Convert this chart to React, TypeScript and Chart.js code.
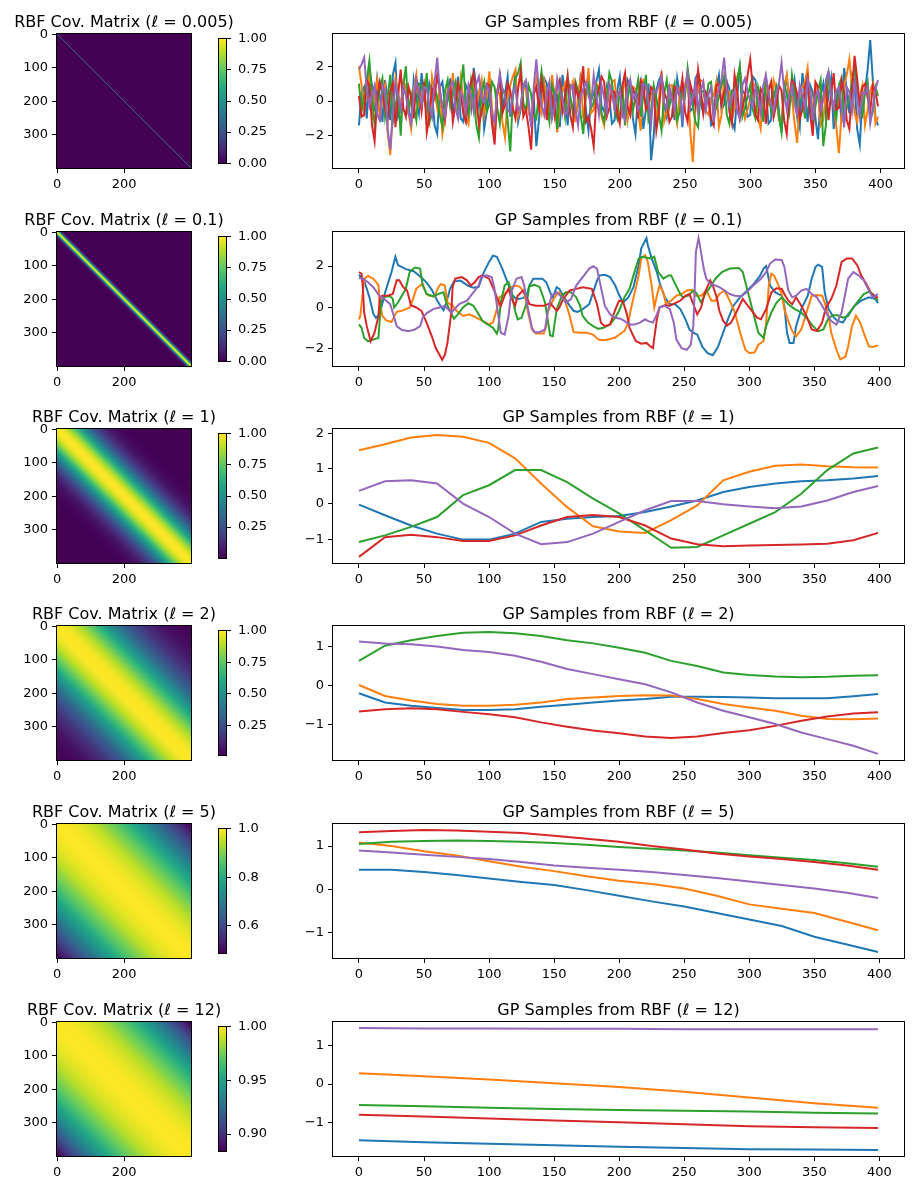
import React, { useEffect, useRef } from "react";
import { Chart, registerables } from "chart.js";
Chart.register(...registerables);

const FONT = "'DejaVu Sans', 'Liberation Sans', sans-serif";
const COLORS = ["#1f77b4", "#ff7f0e", "#2ca02c", "#d62728", "#9467bd"];
const ELL_LABELS = ["0.005", "0.1", "1", "2", "5", "12"];
const GRID_N = 400;

// ---------- covariance lag profiles (value vs |i-j|, sampled every `step` indices) ----------
const covStep = [1, 2, 10, 10, 10, 10];
const cov005 = [1, 0];
const cov01 = [1, 0.956, 0.834, 0.666, 0.485, 0.323, 0.196, 0.109, 0.055, 0.026, 0.011, 0.004, 0.001, 0];
const cov1 = [1, 0.989, 0.956, 0.903, 0.835, 0.754, 0.666, 0.575, 0.485, 0.4, 0.323, 0.255, 0.196, 0.148, 0.109, 0.079, 0.055, 0.038, 0.026, 0.017, 0.011, 0.007, 0.004, 0.002, 0.001, 0.0005, 0];
const cov2 = [1, 0.997, 0.989, 0.975, 0.956, 0.932, 0.903, 0.871, 0.835, 0.795, 0.754, 0.71, 0.666, 0.62, 0.575, 0.529, 0.485, 0.442, 0.4, 0.36, 0.323, 0.287, 0.255, 0.224, 0.196, 0.171, 0.148, 0.127, 0.109, 0.093, 0.079, 0.066, 0.055, 0.046, 0.038, 0.031, 0.026, 0.021, 0.017, 0.014, 0.011];
const cov5 = [1, 1, 0.998, 0.996, 0.993, 0.989, 0.984, 0.978, 0.971, 0.964, 0.956, 0.947, 0.937, 0.926, 0.915, 0.903, 0.891, 0.877, 0.864, 0.849, 0.834, 0.819, 0.803, 0.787, 0.771, 0.754, 0.737, 0.719, 0.701, 0.684, 0.666, 0.647, 0.629, 0.611, 0.593, 0.575, 0.556, 0.538, 0.52, 0.503, 0.487];
const cov12 = [1, 1, 1, 0.9993, 0.9987, 0.998, 0.9972, 0.9962, 0.995, 0.9937, 0.9922, 0.9905, 0.9888, 0.9868, 0.9847, 0.9825, 0.9801, 0.9776, 0.9749, 0.972, 0.9691, 0.9659, 0.9627, 0.9593, 0.9558, 0.9521, 0.9483, 0.9444, 0.9403, 0.9361, 0.9318, 0.9273, 0.9227, 0.918, 0.9133, 0.9084, 0.9034, 0.8982, 0.8929, 0.8875, 0.884];

const cbTicks = [
  [0, 0.25, 0.5, 0.75, 1],
  [0, 0.25, 0.5, 0.75, 1],
  [0.25, 0.5, 0.75, 1],
  [0.25, 0.5, 0.75, 1],
  [0.6, 0.8, 1.0],
  [0.9, 0.95, 1.0],
];
const cbDecimals = [2, 2, 2, 2, 1, 2];

// ---------- GP samples, l = 0.005: values at x = 0,4,8,... and at x = 2,6,10,... ----------
const NOISE_STEP = 4;
const n005Blue = [-1.4, 0.8, 1.8, -0.6, 0.3, 1.2, -1.1, 2.2, -0.4, 0.9, -1.5, 0.2, 1.6, -0.8, 0.5, -1.9, 1.1, 0.0, -0.7, 1.4, -1.2, 0.6, 1.9, -0.3, -1.6, 0.8, -2.2, 1.3, 0.4, -0.9, 1.7, -0.5, 0.9, -1.3, -2.6, 0.5, 1.0, -0.8, 0.3, 1.5, -1.4, 0.7, -0.2, 1.2, -1.7, 0.4, 1.8, -0.6, 0.1, -1.1, 1.4, -0.3, 0.8, -1.9, 1.1, -0.5, -3.4, 0.6, 1.5, -0.9, 0.2, 1.3, -1.5, 0.9, -0.4, 1.6, -0.7, 0.3, -1.3, 1.5, -0.2, 0.7, -1.6, 1.9, 0.4, -0.8, 1.2, -0.3, 0.6, -1.1, 0.9, -1.8, 1.4, 0.2, -0.6, 1.6, -1.2, 0.5, -2.2, 1.0, 0.3, -1.6, 0.8, 1.9, -0.7, 1.1, -2.5, 0.6, 3.5, -1.0];
const n005BlueMid = [0.5, -1.0, 0.9, 1.3, -1.2, 0.1, 1.5, -0.9, 0.6, -0.2, 1.2, -0.7, 0.3, 1.0, -1.4, 0.8, -0.3, 1.3, 0.2, -1.0, 0.9, -0.4, 0.7, 1.1, -0.6, -1.1, 0.5, -0.5, 1.4, 0.3, -1.2, 0.8, -0.4, 0.2, -1.1, 1.3, -0.2, 0.6, -1.5, 0.4, 0.9, -0.9, 1.5, -0.5, 0.1, 1.1, -0.3, 0.8, -1.3, 0.6, -0.8, 1.2, -1.0, 0.4, -1.6, 1.0, -2.0, 1.2, -0.2, 0.7, -1.1, 0.4, 0.9, -0.6, 1.3, -0.1, 0.5, -1.4, 0.8, -0.5, 1.1, -1.2, 0.3, 0.6, -0.9, 1.4, -0.4, 0.2, -1.3, 1.0, -0.6, 0.5, -0.2, 1.2, -1.5, 0.4, 0.9, -1.0, 0.3, -0.7, 1.3, 0.1, -1.2, 0.6, 1.5, -1.6, 0.2, 1.8, 1.2, -1.4];
const n005Orange = [2.0, -0.5, 1.6, 0.4, -1.2, 0.9, -3.1, 1.3, -0.2, 0.8, -1.6, 1.5, 0.3, -0.9, 1.4, -0.4, -1.9, 0.7, 1.6, -0.6, 0.2, -1.3, 1.0, 0.5, -0.8, 1.7, -1.5, 0.4, -2.1, 0.9, 1.8, -0.3, 0.6, -1.2, 1.3, -0.7, 0.2, 1.5, -1.8, 0.6, -0.4, 1.1, 0.3, -1.0, 1.9, -0.5, 0.8, -1.4, 0.0, 1.2, -0.9, 1.6, -0.2, 0.7, -1.7, 1.0, 0.4, -1.1, 1.7, -0.6, 0.9, -1.3, 0.2, 1.4, -3.5, 0.6, 1.1, -0.8, 0.3, -1.5, 1.3, 0.5, -0.4, 1.8, -1.0, 0.1, 0.9, -1.6, 1.2, -0.3, 0.7, -1.2, 1.5, 0.2, -2.4, 0.8, 1.9, -0.5, 0.4, -1.1, 1.6, -0.2, -3.0, 0.9, 2.4, -0.7, 0.3, -1.4, 0.6, -1.3];
const n005OrangeMid = [0.9, 0.7, -1.1, 1.2, 0.3, -1.8, -0.6, 0.4, 1.1, -0.7, 0.5, -0.2, 1.0, -1.3, 0.6, 0.9, -1.0, 0.2, -0.3, 1.3, -0.8, 0.4, -0.5, 1.2, 0.3, -0.4, 0.6, -1.2, 0.2, 1.4, -0.9, 0.8, -0.6, 0.4, -0.1, 1.1, -1.0, 0.3, -0.4, 1.0, 0.6, -1.2, 1.3, 0.2, -0.7, 1.0, -0.9, 0.5, 1.1, -0.4, 0.3, -1.1, 0.8, -0.6, 1.2, -0.3, 0.7, 0.1, -1.2, 0.9, -0.5, 0.6, 1.0, -1.7, -0.4, 1.2, -0.6, 0.2, 1.1, -0.8, 0.5, -1.0, 1.4, 0.3, -0.5, 1.0, -0.9, 0.4, -0.2, 1.2, -1.1, 0.8, 0.1, -1.3, 0.6, 1.1, -0.6, 0.9, -1.4, 0.5, 0.3, -1.5, -0.8, 1.5, 0.8, -1.2, 0.9, -0.5, 1.0, -0.9];
const n005Green = [1.0, 0.3, 2.3, -1.4, 0.7, -0.9, 1.5, -0.3, -2.0, 2.0, 0.4, -1.1, 0.9, 1.6, -0.7, 0.2, -1.5, 1.2, 0.6, -0.4, 2.1, -0.8, 0.3, -2.1, 1.1, -0.2, 0.8, -1.3, 0.5, -2.9, 1.3, 2.2, -0.6, 0.4, -1.0, 1.7, -0.3, 0.9, -1.6, 0.2, 1.4, -0.7, 0.6, -1.9, 1.0, -0.1, 0.5, -1.2, 1.6, -0.5, 0.7, -1.4, 1.1, 0.3, -0.9, 1.5, -0.6, 0.2, -1.7, 1.2, 0.4, -1.1, 0.8, 1.9, -0.3, -1.5, 0.6, 1.0, -0.8, 0.3, 1.4, -1.3, 0.7, 2.0, -0.4, 0.9, -1.0, 0.1, 1.3, -0.6, 0.8, -1.8, 0.4, 1.5, -0.9, 0.2, 1.1, -1.4, 0.6, -2.6, 1.7, -0.5, 0.9, -1.2, 0.3, 2.0, -0.7, 0.5, -1.1, 0.8];
const n005GreenMid = [-0.6, 1.2, 0.4, -0.2, 1.3, 0.2, -1.2, 0.6, 0.9, -0.8, -0.3, 1.0, 0.1, -1.2, 0.8, -0.8, 0.6, -0.3, 1.1, 0.7, -0.2, 1.2, -1.4, 0.5, -0.6, 1.1, -0.4, 0.7, -1.1, 0.2, 1.6, -0.1, 0.9, -0.7, 0.5, 0.4, -1.2, 0.3, 1.0, -0.9, 0.3, 1.1, -0.8, 0.6, -0.4, 0.9, -0.7, 0.2, 1.1, -1.0, 0.8, 0.1, -0.6, 1.2, 0.3, -1.1, 0.9, -0.8, 0.4, -0.3, 1.0, -0.6, 0.3, 0.7, -1.2, 0.5, -0.2, 1.1, -0.4, 0.9, -0.8, 0.6, 1.2, -0.9, 0.3, -0.5, 0.8, -1.2, 0.6, 0.2, -0.9, 1.0, -0.6, 0.5, 0.1, -1.0, 0.7, -0.3, 1.2, -1.4, 0.4, -1.0, 1.3, -0.4, 0.9, 0.6, -0.9, 1.1, -0.6, 0.3];
const n005Red = [0.3, -0.8, 0.9, -2.3, 1.1, -0.4, 0.6, -1.5, 1.8, -0.9, 0.2, 1.2, -0.6, -1.8, 0.7, 1.5, -0.3, 0.4, -1.2, 1.0, -0.7, 0.5, 1.6, -1.4, 0.1, 0.9, -2.5, 1.3, -0.2, 0.6, -1.0, 1.7, -0.5, -2.8, 0.8, 1.2, -1.1, 0.3, 0.9, -0.6, 1.4, -1.5, 0.2, 2.0, -0.9, -2.6, 0.7, 1.1, -0.4, 0.5, -1.3, 1.6, -0.8, 0.3, 1.2, -0.5, 0.8, -1.7, 1.4, 0.1, -0.9, 0.6, 1.3, -1.2, 0.4, 1.8, -0.7, 0.2, -1.4, 1.0, 0.5, -0.6, 1.5, -1.0, 0.3, 2.4, -0.8, 0.7, -1.3, 1.1, -0.2, 0.6, -1.9, 1.2, 0.4, -0.5, 1.4, -2.0, 0.8, 0.2, -1.1, 1.6, -0.4, 0.5, -1.6, 2.6, -0.3, 1.0, -0.6, 0.5];
const n005RedMid = [-0.9, 1.2, -1.4, 0.2, 0.4, -1.1, 1.0, 0.3, -0.4, 0.8, -1.0, 0.6, 1.1, -0.9, 0.2, 0.6, -1.1, 0.9, -0.2, 0.5, -1.2, 1.1, 0.2, -0.6, 1.0, -1.3, 0.4, -0.7, 1.0, -0.4, 0.7, -0.9, -1.5, 0.4, -0.4, 0.3, 0.8, -0.8, 1.2, 0.3, -0.8, 0.9, 0.6, -1.2, -1.6, 0.2, 1.4, -0.9, 0.6, -0.7, 0.9, -0.3, 0.7, -1.0, 1.0, -0.2, 0.6, -0.6, 0.5, -1.2, 0.8, 0.3, -0.6, 1.0, -0.3, 0.7, 0.5, -1.0, 0.9, -0.2, 1.0, -1.3, 0.6, -0.4, 1.5, 0.7, -1.1, 0.4, 0.6, -0.9, 0.9, -1.1, 0.3, 1.0, -1.0, 0.8, -0.8, 1.1, -0.6, 0.9, 0.4, -0.5, 1.2, -1.1, 0.6, 1.3, 0.8, 0.2, 0.9, -0.3];
const n005Purple = [1.8, 2.5, -0.3, 0.9, -1.1, 0.6, -2.8, 1.0, -0.5, 0.3, -1.3, 1.2, -0.2, 0.7, -0.9, 2.5, -0.4, 0.5, 1.1, -1.0, 0.2, 0.9, -0.6, 1.4, -0.1, 0.6, -1.2, 1.6, 0.3, -0.7, 0.8, -0.3, 1.2, -1.5, 2.4, -0.2, 0.5, -1.0, 1.3, 0.1, -0.6, 0.9, -1.4, 0.7, 0.3, 1.5, -0.8, 0.2, 1.0, -0.5, 0.6, -1.1, 1.2, 0.4, -0.2, 0.9, -1.3, 0.5, 1.4, -0.4, 0.1, 0.8, -0.9, 1.6, 0.2, -0.6, 1.1, 0.4, -1.2, 0.7, 2.5, -0.3, 0.6, -1.0, 1.3, 0.0, 0.8, -0.7, 1.5, -0.2, 0.4, 2.2, -0.5, 0.9, -0.8, 0.3, 1.2, -1.1, 0.6, 0.1, 1.7, -0.4, 0.8, -1.5, 0.5, 1.1, -0.9, 0.4, -1.3, 0.7];
const n005PurpleMid = [2.1, 0.6, 0.4, -0.8, 0.9, -1.6, -0.7, 0.2, 0.8, -0.6, 0.2, 0.5, 0.8, -0.3, 1.1, 0.6, -0.9, 0.9, -0.4, 0.5, -0.6, 0.3, 1.0, 0.2, 0.9, -0.7, 0.4, 0.7, -0.5, 0.4, -0.6, 0.9, 0.1, 0.8, 0.5, -0.8, 1.1, -0.3, 0.6, -0.8, 0.7, -0.5, 0.3, 1.1, -0.2, 0.4, 0.9, -0.6, 0.5, 0.3, -0.7, 0.8, 0.1, -0.5, 1.0, -0.2, 0.6, 0.9, -0.1, 0.8, -0.5, 0.4, 0.7, -0.3, 1.0, 0.6, -0.5, 0.8, 0.2, 1.2, 0.6, 0.2, -0.6, 0.9, 0.5, -0.3, 0.2, 0.9, 0.4, -0.6, 1.0, 0.6, 0.3, -0.2, 0.9, -0.4, 0.6, 0.3, -0.5, 1.2, 0.4, 0.6, -0.3, 0.8, -0.6, 0.2, 0.5, 0.8, -0.4, 1.2];

// ---------- GP samples, l = 0.1 ([index, value] pairs) ----------
const s01Blue: number[][] = [[0,1.58],[4,1.3],[8,0.5],[11,-0.3],[13,-0.5],[16,-0.3],[20,0.7],[25,1.7],[28,2.45],[30,2.05],[36,1.85],[42,1.75],[48,1.45],[52,1.2],[56,0.85],[60,0.35],[63,0.05],[65,-0.13],[67,0.2],[70,0.9],[73,1.25],[78,1.3],[84,1.05],[88,0.95],[92,1.0],[96,1.7],[100,2.2],[103,2.5],[106,2.45],[110,1.9],[114,1.25],[118,0.6],[121,0.4],[126,0.45],[129,0.6],[131,1.06],[134,1.39],[141,1.39],[144,1.22],[147,0.73],[149,0.49],[152,0.98],[154,0.9],[157,0.57],[162,0.08],[165,-0.16],[168,-0.21],[172,-0.08],[177,0.16],[180,0.73],[183,1.31],[185,1.55],[189,1.58],[193,1.47],[197,1.06],[200,0.6],[203,0.24],[207,0.49],[211,0.98],[215,2.04],[217,2.86],[221,3.35],[222,3.02],[225,2.37],[229,1.71],[231,1.22],[235,0.49],[239,0.16],[243,0.16],[247,-0.08],[251,-0.57],[254,-1.06],[257,-1.22],[260,-1.3],[264,-1.9],[268,-2.2],[272,-2.3],[276,-1.9],[280,-1.2],[284,-0.5],[288,0.1],[293,0.5],[298,0.8],[303,1.1],[308,1.5],[311,1.88],[313,2.0],[316,1.06],[320,0.73],[325,0.57],[327,0.08],[329,-1.22],[331,-1.71],[334,-1.71],[336,-0.9],[340,-0.08],[345,0.57],[348,1.39],[351,1.96],[353,2.07],[356,1.96],[358,0.73],[361,-0.08],[365,-0.49],[368,-0.65],[372,-0.73],[376,-0.33],[381,0.08],[386,0.33],[392,0.49],[397,0.41],[399,0.21]];
const s01Orange: number[][] = [[0,-0.57],[1,-0.4],[3,0.73],[4,1.39],[7,1.52],[11,1.39],[15,1.09],[16,0.24],[18,-0.41],[21,-0.62],[25,-0.7],[29,-0.21],[33,-0.16],[36,-0.08],[39,0],[42,0.49],[44,0.9],[47,1.06],[49,1.14],[52,0.65],[54,0.57],[58,0.54],[61,0.98],[63,1.14],[66,1.06],[68,0.24],[72,0.08],[75,-0.16],[80,-0.41],[85,-0.33],[90,-0.49],[95,-0.65],[100,-0.82],[103,-0.73],[106,-0.08],[108,0.49],[112,0.65],[117,0.98],[121,1.06],[124,0.98],[127,0.73],[130,-0.24],[133,-1.06],[136,-1.26],[142,-1.26],[144,-0.9],[145,-0.24],[149,0.33],[152,0.65],[154,0.73],[158,0.41],[162,-0.41],[165,-1.19],[170,-1.22],[175,-1.22],[180,-1.31],[184,-1.55],[188,-1.58],[193,-1.52],[197,-1.45],[202,-1.22],[204,-1.14],[207,-0.73],[209,-0.08],[212,0.73],[215,1.55],[217,2.37],[220,2.53],[222,2.2],[225,1.06],[227,0],[229,0.57],[231,1.06],[234,0.73],[236,0.16],[240,0.33],[244,0.57],[248,0.65],[252,0.82],[256,0.85],[259,0.57],[263,0.57],[267,0.82],[271,0.33],[274,0.33],[277,0.65],[281,0.82],[285,0.33],[289,-0.24],[293,-1.22],[297,-2.04],[300,-2.2],[304,-2.17],[307,-1.8],[311,-1.63],[313,-0.73],[315,1.06],[317,1.63],[319,1.55],[322,1.14],[325,0.65],[327,-0.08],[330,-0.65],[333,-1.14],[336,-1.39],[340,-1.06],[344,-0.24],[348,0.57],[352,0.6],[356,0.57],[358,0.24],[361,-0.41],[363,-1.22],[367,-2.04],[370,-2.5],[374,-2.37],[376,-1.88],[379,-0.9],[382,-0.4],[385,-0.7],[389,-1.39],[392,-1.88],[395,-1.91],[399,-1.83]];
const s01Green: number[][] = [[0,-0.82],[2,-0.98],[4,-1.47],[7,-1.63],[11,-1.55],[15,-1.47],[16,-0.57],[17,0.33],[20,0.52],[24,0.54],[26,0.41],[27,0],[30,0.24],[33,0.57],[36,0.9],[39,1.71],[43,1.93],[47,1.88],[49,1.06],[52,0.65],[57,0.54],[61,0.65],[65,0.73],[67,0.24],[70,-0.16],[73,-0.54],[76,-0.33],[80,0],[84,0.21],[88,0.08],[92,-0.33],[95,-0.65],[99,-0.82],[103,-0.98],[106,-1.26],[107,-1.06],[109,0.24],[112,1.06],[115,1.22],[117,0.82],[120,-0.16],[122,-0.57],[125,-0.49],[129,0.24],[131,1.03],[135,1.09],[139,0.98],[143,0.24],[147,-1.35],[149,-1.39],[152,-0.08],[156,0.57],[159,0.73],[163,0.73],[167,0.49],[170,0.08],[172,-0.41],[176,-0.73],[180,-0.9],[184,-1.03],[188,-0.98],[193,-0.82],[197,-0.49],[200,-0.16],[204,0.49],[208,0.9],[211,1.55],[215,2.37],[218,2.45],[224,2.37],[227,2.45],[230,1.71],[234,1.39],[238,1.55],[240,1.55],[243,1.14],[247,0.65],[249,0.49],[253,0.57],[257,0.82],[259,0.73],[263,0.24],[266,0.65],[270,0.98],[274,1.39],[279,1.71],[285,1.88],[292,1.91],[295,1.71],[299,0.73],[303,-0.24],[307,-1.22],[311,-1.47],[313,-0.9],[317,-0.24],[321,0.24],[325,0.49],[330,0.16],[335,-0.08],[340,-0.24],[345,-0.57],[349,-0.9],[353,-1.14],[357,-1.06],[361,-0.49],[365,-0.38],[368,-0.38],[372,-0.49],[376,-0.41],[380,0],[384,0.33],[388,0.65],[392,0.77],[395,0.65],[399,0.33]];
const s01Red: number[][] = [[0,1.71],[2,1.63],[3,0.98],[4,-0.24],[6,-0.9],[8,-1.39],[9,-1.63],[12,-1.22],[15,-0.41],[16,0.49],[18,0.57],[22,0.57],[26,0.65],[29,1.31],[31,1.31],[34,0.98],[37,0.82],[40,0.11],[44,0],[48,-0.16],[52,-0.73],[56,-1.39],[59,-1.96],[62,-2.29],[64,-2.53],[66,-2.29],[68,-1.71],[71,-0.24],[72,0.98],[74,1.39],[79,1.47],[83,1.31],[86,1.06],[89,1.22],[92,1.47],[95,1.55],[100,1.39],[104,0.82],[107,0.33],[109,0.08],[112,0.57],[115,0.9],[117,0.49],[120,0.08],[122,0.57],[126,0.82],[129,0.49],[131,0.16],[136,0.08],[142,0.08],[147,0.21],[152,-0.16],[154,0],[157,0.41],[162,0.82],[167,0.9],[172,0.98],[179,0.9],[183,0.16],[186,-0.73],[189,-0.9],[193,-0.82],[197,-0.1],[200,0.33],[203,0.28],[206,-0.33],[208,-0.98],[211,-1.39],[213,-1.63],[217,-1.75],[221,-1.71],[224,-1.88],[226,-1.96],[227,-1.47],[229,-0.57],[231,0],[235,0.11],[239,0.08],[243,0.21],[247,0.33],[251,0.57],[254,0.65],[257,0.16],[260,-0.33],[263,0],[266,0.73],[270,1.31],[272,1.06],[275,0.49],[277,-0.16],[280,-0.65],[283,-0.87],[286,-0.73],[290,-0.24],[295,0.41],[298,0.16],[302,-0.16],[306,-0.49],[309,-0.57],[313,-0.08],[317,0.73],[321,0.93],[325,0.9],[327,0.65],[330,0.33],[333,0.16],[336,0.49],[340,0.08],[344,-0.41],[348,-1.06],[352,-1.14],[356,-0.73],[359,0],[363,0.41],[367,1.06],[371,2.2],[375,2.37],[379,2.37],[383,2.04],[386,1.55],[390,1.14],[394,0.65],[398,0.49],[399,0.49]];
const s01Purple: number[][] = [[0,1.42],[3,1.39],[7,1.22],[11,0.98],[16,0.54],[20,0.38],[24,0.16],[26,-0.24],[29,-0.9],[33,-1.09],[38,-1.14],[43,-1.06],[47,-0.9],[49,-0.49],[52,-0.28],[57,-0.08],[62,0],[66,0.08],[68,-0.05],[71,-0.24],[74,-0.05],[77,0.16],[83,0.33],[88,0.73],[92,1.06],[94,1.47],[98,1.55],[102,1.47],[104,0.98],[107,-0.33],[109,-1.22],[112,-1.31],[115,-0.41],[117,0.73],[121,1.39],[125,1.47],[127,1.06],[130,-0.08],[133,-0.98],[135,-1.19],[139,-1.19],[143,-1.06],[145,-0.24],[148,0.57],[152,0.73],[156,0.49],[159,0.24],[163,0.41],[167,1.06],[172,1.47],[177,1.88],[180,1.99],[183,1.88],[186,0.98],[189,0.08],[193,-0.33],[197,-0.5],[201,-0.54],[204,-0.65],[208,-0.82],[212,-0.82],[216,-0.73],[220,-0.57],[222,-0.65],[226,-0.73],[229,-0.33],[231,0],[235,0.08],[239,-0.08],[242,-0.73],[244,-1.55],[248,-1.96],[252,-2.04],[255,-1.8],[257,-0.9],[258,0.73],[259,2.69],[261,3.35],[262,3.02],[265,1.88],[267,1.39],[270,1.14],[274,1.06],[277,0.98],[281,0.82],[285,0.65],[289,0.57],[294,0.54],[298,0.73],[303,1.06],[309,1.39],[313,1.71],[316,2.12],[320,2.32],[325,2.29],[327,1.96],[330,0.82],[333,0.49],[336,0.57],[340,0.82],[344,0.9],[348,0.65],[352,0.49],[356,0.08],[359,-0.24],[363,-0.65],[367,-0.82],[371,-0.24],[374,0.73],[376,1.39],[380,1.71],[384,1.55],[388,1.31],[392,0.82],[395,0.49],[399,0.65]];

// ---------- GP samples, l = 1 and l = 2 (at X20) ----------
const X20 = [0, 20, 40, 60, 80, 100, 120, 140, 160, 180, 200, 220, 240, 260, 280, 300, 320, 340, 360, 380, 399];
const l1Blue = [-0.02, -0.32, -0.61, -0.84, -1.01, -1.01, -0.84, -0.51, -0.42, -0.37, -0.34, -0.23, -0.07, 0.1, 0.34, 0.48, 0.58, 0.64, 0.67, 0.72, 0.79];
const l1Orange = [1.52, 1.69, 1.88, 1.95, 1.9, 1.73, 1.29, 0.58, -0.09, -0.63, -0.78, -0.82, -0.46, -0.04, 0.67, 0.91, 1.08, 1.12, 1.07, 1.04, 1.03];
const l1Green = [-1.08, -0.89, -0.65, -0.37, 0.25, 0.53, 0.96, 0.96, 0.62, 0.15, -0.27, -0.75, -1.24, -1.22, -0.89, -0.56, -0.23, 0.29, 0.96, 1.43, 1.6];
const l1Red = [-1.5, -0.94, -0.87, -0.94, -1.05, -1.05, -0.89, -0.61, -0.37, -0.31, -0.37, -0.61, -0.98, -1.14, -1.2, -1.18, -1.16, -1.15, -1.13, -1.03, -0.82];
const l1Purple = [0.37, 0.64, 0.67, 0.58, 0.01, -0.37, -0.84, -1.14, -1.08, -0.84, -0.51, -0.18, 0.08, 0.08, -0.01, -0.07, -0.12, -0.07, 0.1, 0.34, 0.51];

const l2Blue = [-0.19, -0.43, -0.51, -0.57, -0.62, -0.62, -0.6, -0.54, -0.49, -0.43, -0.38, -0.34, -0.28, -0.28, -0.29, -0.3, -0.32, -0.32, -0.32, -0.27, -0.21];
const l2Orange = [0.02, -0.26, -0.38, -0.47, -0.51, -0.51, -0.49, -0.43, -0.34, -0.3, -0.26, -0.24, -0.25, -0.34, -0.47, -0.56, -0.64, -0.77, -0.85, -0.86, -0.84];
const l2Green = [0.64, 1.03, 1.17, 1.28, 1.36, 1.38, 1.35, 1.28, 1.17, 1.09, 0.98, 0.85, 0.64, 0.51, 0.34, 0.28, 0.24, 0.22, 0.23, 0.26, 0.27];
const l2Red = [-0.66, -0.6, -0.58, -0.6, -0.67, -0.73, -0.81, -0.94, -1.05, -1.15, -1.22, -1.3, -1.34, -1.3, -1.21, -1.14, -1.03, -0.9, -0.79, -0.71, -0.68];
const l2Purple = [1.14, 1.09, 1.07, 1.01, 0.92, 0.87, 0.77, 0.62, 0.43, 0.3, 0.17, 0.04, -0.17, -0.43, -0.64, -0.81, -0.98, -1.2, -1.37, -1.54, -1.75];

// ---------- GP samples, l = 5 (at X25) ----------
const X25 = [0, 25, 50, 75, 100, 125, 150, 175, 200, 225, 250, 275, 300, 325, 350, 375, 399];
const l5Blue = [0.45, 0.45, 0.4, 0.33, 0.25, 0.17, 0.1, -0.02, -0.15, -0.28, -0.4, -0.55, -0.7, -0.85, -1.1, -1.28, -1.45];
const l5Orange = [1.08, 1.0, 0.88, 0.78, 0.65, 0.52, 0.42, 0.3, 0.2, 0.12, 0.02, -0.15, -0.35, -0.45, -0.55, -0.75, -0.95];
const l5Green = [1.05, 1.1, 1.12, 1.13, 1.12, 1.1, 1.07, 1.03, 0.98, 0.94, 0.9, 0.85, 0.79, 0.73, 0.68, 0.6, 0.52];
const l5Red = [1.32, 1.35, 1.37, 1.36, 1.33, 1.3, 1.24, 1.17, 1.1, 1.0, 0.92, 0.83, 0.76, 0.7, 0.63, 0.55, 0.45];
const l5Purple = [0.9, 0.85, 0.8, 0.75, 0.7, 0.63, 0.55, 0.5, 0.45, 0.4, 0.33, 0.26, 0.18, 0.1, 0.02, -0.08, -0.2];

// ---------- GP samples, l = 12 (at X50) ----------
const X50 = [0, 50, 100, 150, 200, 250, 300, 350, 399];
const l12Blue = [-1.47, -1.52, -1.56, -1.6, -1.64, -1.67, -1.7, -1.71, -1.72];
const l12Orange = [0.28, 0.2, 0.12, 0.02, -0.08, -0.2, -0.35, -0.5, -0.62];
const l12Green = [-0.55, -0.58, -0.62, -0.65, -0.68, -0.7, -0.72, -0.75, -0.77];
const l12Red = [-0.8, -0.85, -0.9, -0.95, -1.0, -1.05, -1.1, -1.13, -1.15];
const l12Purple = [1.46, 1.45, 1.45, 1.44, 1.44, 1.43, 1.43, 1.43, 1.43];

const X_TICKS = [0, 50, 100, 150, 200, 250, 300, 350, 400];
const HM_X_TICKS = [0, 200];
const HM_Y_TICKS = [0, 100, 200, 300];
const Y_STEP = [2, 2, 1, 1, 1, 1];

// ---------- layout ----------
const ROW_TOPS = [34, 232, 429, 626, 824, 1022];
const AX_H = 134;

// ---------- helpers ----------
type P = { x: number; y: number };
const interleave = (a: number[], b: number[], step: number): P[] => {
  const out: P[] = [];
  a.forEach((y, k) => {
    out.push({ x: k * step, y });
    if (k < b.length) out.push({ x: k * step + step / 2, y: b[k] });
  });
  return out;
};
const fromPairs = (ps: number[][]): P[] => ps.map(([x, y]) => ({ x, y }));
const fromXs = (xs: number[], ys: number[]): P[] => ys.map((y, k) => ({ x: xs[k], y }));

const SERIES: P[][][] = [
  [
    interleave(n005Blue, n005BlueMid, NOISE_STEP),
    interleave(n005Orange, n005OrangeMid, NOISE_STEP),
    interleave(n005Green, n005GreenMid, NOISE_STEP),
    interleave(n005Red, n005RedMid, NOISE_STEP),
    interleave(n005Purple, n005PurpleMid, NOISE_STEP),
  ],
  [s01Blue, s01Orange, s01Green, s01Red, s01Purple].map(fromPairs),
  [l1Blue, l1Orange, l1Green, l1Red, l1Purple].map((s) => fromXs(X20, s)),
  [l2Blue, l2Orange, l2Green, l2Red, l2Purple].map((s) => fromXs(X20, s)),
  [l5Blue, l5Orange, l5Green, l5Red, l5Purple].map((s) => fromXs(X25, s)),
  [l12Blue, l12Orange, l12Green, l12Red, l12Purple].map((s) => fromXs(X50, s)),
];
const PROFILES = [cov005, cov01, cov1, cov2, cov5, cov12];

const VIRIDIS = [
  [68, 1, 84], [72, 36, 117], [65, 68, 135], [53, 95, 141], [42, 120, 142], [33, 145, 140],
  [34, 168, 132], [68, 191, 112], [122, 209, 81], [189, 223, 38], [253, 231, 37],
];
function viridis(t: number): number[] {
  const c = Math.max(0, Math.min(1, t)) * (VIRIDIS.length - 1);
  const i = Math.min(VIRIDIS.length - 2, Math.floor(c));
  const f = c - i;
  const a = VIRIDIS[i], b = VIRIDIS[i + 1];
  return [0, 1, 2].map((k) => Math.round(a[k] + (b[k] - a[k]) * f));
}

const fmt = (v: number, d: number) => {
  const s = Math.abs(v).toFixed(d);
  return v < -1e-9 ? "\u2212" + s : s;
};
const fixTicks = (vals: number[]) => (s: any) => {
  s.ticks = vals.map((v) => ({ value: v }));
};
const tickFont = { family: FONT, size: 13 };
const axisBase = (dec: number, pad = 4) => ({
  grid: { display: true, drawOnChartArea: false, drawTicks: true, tickLength: 5, tickColor: "#000", tickWidth: 1, color: "#000" },
  border: { display: false },
  ticks: { font: tickFont, color: "#000", padding: pad, autoSkip: false, maxRotation: 0, minRotation: 0, callback: (v: any) => fmt(Number(v), dec) },
});

const framePlugin = {
  id: "frame",
  afterDatasetsDraw(chart: any) {
    const { ctx, chartArea: a } = chart;
    ctx.save();
    ctx.strokeStyle = "#000";
    ctx.lineWidth = 1;
    ctx.strokeRect(Math.round(a.left) - 0.5, Math.round(a.top) - 0.5, Math.round(a.right - a.left) + 1, Math.round(a.bottom - a.top) + 1);
    ctx.restore();
  },
};

const titlePlugin = (prefix: string, ell: string) => ({
  id: "mtitle",
  afterDraw(chart: any) {
    const { ctx, chartArea: a } = chart;
    const parts = [
      { t: prefix + " (", f: `16px ${FONT}` },
      { t: "\u2113", f: `italic 16px ${FONT}` },
      { t: " = " + ell + ")", f: `16px ${FONT}` },
    ];
    ctx.save();
    ctx.fillStyle = "#000";
    ctx.textBaseline = "alphabetic";
    ctx.textAlign = "left";
    const widths = parts.map((p) => {
      ctx.font = p.f;
      return ctx.measureText(p.t).width;
    });
    let x = (a.left + a.right) / 2 - widths.reduce((s, w) => s + w, 0) / 2;
    parts.forEach((p, i) => {
      ctx.font = p.f;
      ctx.fillText(p.t, x, a.top - 7);
      x += widths[i];
    });
    ctx.restore();
  },
});

// heatmap: each screen pixel shows the mean of the matrix cells it covers (box filter), then viridis
function heatmapPlugin(prof: number[], step: number) {
  const vmax = Math.max(...prof);
  const vmin = Math.min(...prof);
  const cell = (i: number, j: number) => prof[Math.min(prof.length - 1, Math.round(Math.abs(i - j) / step))];
  return {
    id: "heat",
    beforeDatasetsDraw(chart: any) {
      const { ctx, scales } = chart;
      const xa = scales.x.getPixelForValue(-0.5), xb = scales.x.getPixelForValue(GRID_N - 0.5);
      const ya = scales.y.getPixelForValue(-0.5), yb = scales.y.getPixelForValue(GRID_N - 0.5);
      const left = Math.round(Math.min(xa, xb)), top = Math.round(Math.min(ya, yb));
      const W = Math.round(Math.abs(xb - xa)), H = Math.round(Math.abs(yb - ya));
      const c = document.createElement("canvas");
      c.width = W;
      c.height = H;
      const cx = c.getContext("2d")!;
      const id = cx.createImageData(W, H);
      const S = 6;
      for (let py = 0; py < H; py++) {
        for (let px = 0; px < W; px++) {
          let sum = 0;
          for (let sy = 0; sy < S; sy++) {
            const i = Math.floor(((py + (sy + 0.5) / S) / H) * GRID_N);
            for (let sx = 0; sx < S; sx++) {
              const j = Math.floor(((px + (sx + 0.5) / S) / W) * GRID_N);
              sum += cell(i, j);
            }
          }
          const v = sum / (S * S);
          const col = viridis((v - vmin) / (vmax - vmin));
          const p = (py * W + px) * 4;
          id.data[p] = col[0];
          id.data[p + 1] = col[1];
          id.data[p + 2] = col[2];
          id.data[p + 3] = 255;
        }
      }
      cx.putImageData(id, 0, 0);
      ctx.save();
      ctx.imageSmoothingEnabled = false;
      ctx.drawImage(c, left, top);
      ctx.restore();
    },
  };
}

function colorbarPlugin(vmin: number, vmax: number) {
  return {
    id: "cbar",
    beforeDatasetsDraw(chart: any) {
      const { ctx, chartArea: a, scales } = chart;
      ctx.save();
      for (let py = Math.floor(a.top); py < Math.ceil(a.bottom); py++) {
        const v = scales.y.getValueForPixel(py + 0.5);
        const c = viridis((v - vmin) / (vmax - vmin));
        ctx.fillStyle = `rgb(${c[0]},${c[1]},${c[2]})`;
        ctx.fillRect(a.left, py, a.right - a.left, 1);
      }
      ctx.restore();
    },
  };
}

function ChartBox(props: { left: number; top: number; width: number; height: number; make: () => any }) {
  const ref = useRef<HTMLCanvasElement>(null);
  useEffect(() => {
    const chart = new Chart(ref.current as HTMLCanvasElement, props.make());
    return () => chart.destroy();
  }, []);
  return (
    <canvas
      ref={ref}
      width={props.width}
      height={props.height}
      style={{ position: "absolute", left: props.left, top: props.top, width: props.width, height: props.height }}
    />
  );
}

const baseOptions = (padding: any) => ({
  animation: false,
  responsive: false,
  devicePixelRatio: 1,
  layout: { padding, autoPadding: false },
  plugins: { legend: { display: false }, tooltip: { enabled: false }, title: { display: false } },
});

function heatConfig(r: number) {
  const prof = PROFILES[r];
  return {
    type: "scatter",
    data: { datasets: [] },
    options: {
      ...baseOptions({ left: 0, right: 59, top: 34, bottom: 0 }),
      scales: {
        x: { type: "linear", min: -0.5, max: GRID_N - 0.5, afterBuildTicks: fixTicks(HM_X_TICKS), afterFit: (s: any) => { s.height = 36; }, ...axisBase(0) },
        y: { type: "linear", reverse: true, min: -0.5, max: GRID_N - 0.5, afterBuildTicks: fixTicks(HM_Y_TICKS), afterFit: (s: any) => { s.width = 57; }, ...axisBase(0) },
      },
    },
    plugins: [heatmapPlugin(prof, covStep[r]), framePlugin, titlePlugin("RBF Cov. Matrix", ELL_LABELS[r])],
  };
}

function cbarConfig(r: number) {
  const prof = PROFILES[r];
  const vmin = Math.min(...prof), vmax = Math.max(...prof);
  return {
    type: "scatter",
    data: { datasets: [] },
    options: {
      ...baseOptions({ left: 14, right: 0, top: 10, bottom: 10 }),
      scales: {
        x: { type: "linear", display: false, min: 0, max: 1 },
        y: { type: "linear", position: "right", min: vmin, max: vmax, afterBuildTicks: fixTicks(cbTicks[r]), afterFit: (s: any) => { s.width = 74; }, ...axisBase(cbDecimals[r], 7) },
      },
    },
    plugins: [colorbarPlugin(vmin, vmax), framePlugin],
  };
}

function lineConfig(r: number) {
  const series = SERIES[r];
  const ys = series.flat().map((p) => p.y);
  const xs = series.flat().map((p) => p.x);
  const ylo = Math.min(...ys), yhi = Math.max(...ys);
  const xlo = Math.min(...xs), xhi = Math.max(...xs);
  const ym = (yhi - ylo) * 0.05, xm = (xhi - xlo) * 0.05;
  const ymin = ylo - ym, ymax = yhi + ym;
  const st = Y_STEP[r];
  const yt: number[] = [];
  for (let v = Math.ceil(ymin / st) * st; v <= ymax + 1e-9; v += st) yt.push(v);
  return {
    type: "line",
    data: {
      datasets: series.map((pts, i) => ({
        data: pts,
        borderColor: COLORS[i],
        backgroundColor: COLORS[i],
        borderWidth: 2,
        pointRadius: 0,
        fill: false,
        tension: 0,
        order: 4 - i,
      })),
    },
    options: {
      ...baseOptions({ left: 0, right: 9, top: 34, bottom: 0 }),
      scales: {
        x: { type: "linear", min: xlo - xm, max: xhi + xm, afterBuildTicks: fixTicks(X_TICKS), afterFit: (s: any) => { s.height = 36; }, ...axisBase(0) },
        y: { type: "linear", min: ymin, max: ymax, afterBuildTicks: fixTicks(yt), afterFit: (s: any) => { s.width = 43; }, ...axisBase(0) },
      },
    },
    plugins: [framePlugin, titlePlugin("GP Samples from RBF", ELL_LABELS[r])],
  };
}

export default function App() {
  return (
    <div style={{ position: "absolute", left: 0, top: 0, width: 913, height: 1189, background: "#fff", overflow: "hidden" }}>
      {ROW_TOPS.map((T, r) => (
        <React.Fragment key={r}>
          <ChartBox left={0} top={T - 34} width={250} height={34 + AX_H + 36} make={() => heatConfig(r)} />
          <ChartBox left={205} top={T - 10} width={95} height={AX_H + 20} make={() => cbarConfig(r)} />
          <ChartBox left={290} top={T - 34} width={623} height={34 + AX_H + 36} make={() => lineConfig(r)} />
        </React.Fragment>
      ))}
    </div>
  );
}
